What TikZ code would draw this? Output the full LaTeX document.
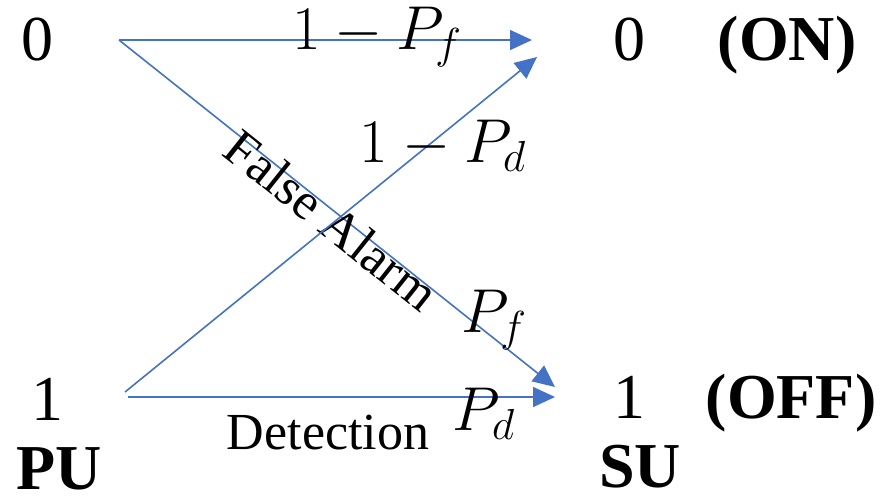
\RequirePackage{fix-cm}
\documentclass[tikz,border=0pt]{standalone}
\usepackage{fontspec}
\setmainfont{Liberation Serif}
\usetikzlibrary{arrows.meta}
\definecolor{linkblue}{RGB}{68,114,196}

\begin{document}
\begin{tikzpicture}[
x=0.5pt, y=-0.5pt,
state/.style={font=\fontsize{32}{38}\selectfont, anchor=base, inner sep=0pt},
tag/.style={font=\fontsize{32}{38}\selectfont\bfseries, anchor=base, inner sep=0pt},
prob/.style={font=\fontsize{31}{37}\selectfont, anchor=base, inner sep=0pt},
note/.style={font=\fontsize{26}{31}\selectfont, inner sep=0pt},
arrow/.style={draw=linkblue, line width=0.8pt, -{Triangle[length=11pt, width=10pt]}}
]
\useasboundingbox (0,0) rectangle (881,500);

\node (pu0) [state] at (37,60) {0};
\node (pu1) [state] at (47,420) {1};
\node (pu) [tag] at (59,489) {PU};
\node (su0) [state] at (629,60) {0};
\node (su1) [state] at (629,418) {1};
\node (su) [tag] at (640,487) {SU};
\node (on) [tag] at (787,60) {(ON)};
\node (off) [tag] at (791,418) {(OFF)};

\coordinate (src0) at (119,40);
\coordinate (src1a) at (125,392);
\coordinate (src1b) at (128,397);
\coordinate (dst0a) at (532,40);
\coordinate (dst0b) at (537,57);
\coordinate (dst1a) at (555,387);
\coordinate (dst1b) at (555,397);

\draw [arrow] (src0) -- (dst0a);
\draw [arrow] (src0) -- node[note, sloped, below=-5.5pt] {False Alarm} (dst1a);
\draw [arrow] (src1a) -- (dst0b);
\draw [arrow] (src1b) -- (dst1b);

\node (notpf) [prob] at (377,49) {$1-P_f$};
\node (notpd) [prob] at (443,162) {$1-P_d$};
\node (pf) [prob] at (494,332) {$P_f$};
\node (pd) [prob] at (484,430) {$P_d$};
\node (detect) [note, anchor=base] at (328,449) {Detection};

\end{tikzpicture}
\end{document}
